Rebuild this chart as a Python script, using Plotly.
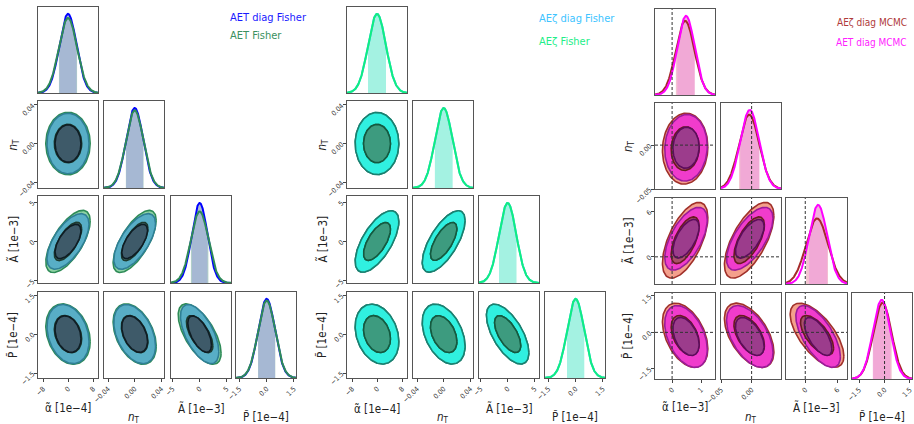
import numpy as np
import plotly.graph_objects as go

# ---------------- data ----------------
LABELS_FISHER = ["α̃ [1e−4]", "<i>n</i><sub>T</sub>", "Ã [1e−3]", "P̃ [1e−4]"]
LABELS_MCMC = ["α̃ [1e−3]", "<i>n</i><sub>T</sub>", "Ã [1e−3]", "P̃ [1e−4]"]

RANGES_FISHER = [[-9.6, 9.6], [-0.046, 0.044], [-5.3, 5.8], [-1.69, 1.62]]
RANGES_MCMC = [[-0.59, 1.48], [-0.05, 0.048], [-3.6, 7.8], [-1.92, 1.62]]

TICKS_FISHER = [[-8, 0, 8], [-0.04, 0.0, 0.04], [-5, 0, 5], [-1.5, 0.0, 1.5]]
TICKTEXT_FISHER = [["−8", "0", "8"], ["−0.04", "0.00", "0.04"], ["−5", "0", "5"], ["−1.5", "0.0", "1.5"]]
TICKS_MCMC = [[0, 1], [-0.05, 0.0], [0, 6], [-1.5, 0.0, 1.5]]
TICKTEXT_MCMC = [["0", "1"], ["−0.05", "0.00"], ["0", "6"], ["−1.5", "0.0", "1.5"]]

TRUE_VALUES = [0.0, 0.0, 0.0, 0.0]

# correlation order: (nT,α), (Ã,α), (Ã,nT), (P̃,α), (P̃,nT), (P̃,Ã)
AET_DIAG_MEAN = [0.0, 0.0, 0.0, 0.0]
AET_DIAG_SIGMA = [2.75, 0.0128, 1.45, 0.465]
AET_DIAG_CORR = [0.0, 0.62, 0.65, -0.25, -0.4, -0.6]

AET_FULL_MEAN = [0.0, 0.0, 0.0, 0.0]
AET_FULL_SIGMA = [2.9, 0.0132, 1.62, 0.475]
AET_FULL_CORR = [0.0, 0.66, 0.68, -0.25, -0.4, -0.63]

AEZ_DIAG_MEAN = [0.0, 0.0, 0.0, 0.0]
AEZ_DIAG_SIGMA = [2.85, 0.0131, 1.6, 0.47]
AEZ_DIAG_CORR = [0.0, 0.65, 0.68, -0.25, -0.4, -0.62]

AEZ_FULL_MEAN = [0.0, 0.0, 0.0, 0.0]
AEZ_FULL_SIGMA = [2.85, 0.0131, 1.6, 0.47]
AEZ_FULL_CORR = [0.0, 0.65, 0.68, -0.25, -0.4, -0.62]

AEZ_MCMC_MEAN = [0.45, -0.004, 2.2, -0.12]
AEZ_MCMC_SIGMA = [0.32, 0.0165, 2.05, 0.54]
AEZ_MCMC_CORR = [0.05, 0.6, 0.65, -0.42, -0.52, -0.65]

AET_MCMC_MEAN = [0.48, -0.003, 2.4, -0.17]
AET_MCMC_SIGMA = [0.3, 0.0155, 1.7, 0.52]
AET_MCMC_CORR = [0.05, 0.6, 0.65, -0.42, -0.52, -0.65]

# ---------------- layout constants ----------------
FIG_W, FIG_H = 914, 424
FONT = "DejaVu Sans Condensed, Liberation Sans Narrow, DejaVu Sans"

GROUPS = [
    dict(cols=[(38, 98), (104, 164), (171, 231), (236, 296)],
         rows=[(7, 93), (101, 188), (196, 283), (292, 378)],
         ranges=RANGES_FISHER, ticks=TICKS_FISHER, ticktext=TICKTEXT_FISHER,
         labels=LABELS_FISHER, ytitle_x=13, xtitle_y=[408, 417, 408, 417],
         legend_x=228, legend_anchor="left", legend_size=11, legend_y=[17, 36], dashed=False,
         series=[
             dict(name="AET Fisher", mean=AET_FULL_MEAN, sigma=AET_FULL_SIGMA, corr=AET_FULL_CORR,
                  line="#2e8b57", text="#3a9060", o_fill="#8ed3a4", o_line="#2e8b57",
                  i_fill="#426a6c", i_line="#1d3b2f", band="rgba(150,195,175,0.7)"),
             dict(name="AET diag Fisher", mean=AET_DIAG_MEAN, sigma=AET_DIAG_SIGMA, corr=AET_DIAG_CORR,
                  line="#0000ff", text="#1a1aff", o_fill="#58aec6", o_line="#2f7f95",
                  i_fill="#3e5a69", i_line="#0f1d24", band="rgba(165,182,212,0.95)"),
         ],
         legend_order=[1, 0], line_order=[1, 0]),
    dict(cols=[(347, 407), (413, 473), (479, 539), (545, 605)],
         rows=[(7, 93), (101, 188), (196, 283), (292, 378)],
         ranges=RANGES_FISHER, ticks=TICKS_FISHER, ticktext=TICKTEXT_FISHER,
         labels=LABELS_FISHER, ytitle_x=322, xtitle_y=[409, 417, 408, 417],
         legend_x=537, legend_anchor="left", legend_size=11, legend_y=[19, 41], dashed=False,
         series=[
             dict(name="AEζ diag Fisher", mean=AEZ_DIAG_MEAN, sigma=AEZ_DIAG_SIGMA, corr=AEZ_DIAG_CORR,
                  line="#33bbff", text="#40c4ff", o_fill="#30f0e0", o_line="#1a8070",
                  i_fill="#3d9b7f", i_line="#145a40", band="rgba(164,242,226,1)"),
             dict(name="AEζ Fisher", mean=AEZ_FULL_MEAN, sigma=AEZ_FULL_SIGMA, corr=AEZ_FULL_CORR,
                  line="#11ee80", text="#22ee88", o_fill="#30f0e0", o_line="#1a8070",
                  i_fill="#3d9b7f", i_line="#145a40", band="rgba(164,242,226,1)"),
         ],
         legend_order=[0, 1], line_order=[0, 1]),
    dict(cols=[(655, 715), (721, 781), (786, 847), (852, 912)],
         rows=[(9, 95), (103, 189), (198, 284), (293, 379)],
         ranges=RANGES_MCMC, ticks=TICKS_MCMC, ticktext=TICKTEXT_MCMC,
         labels=LABELS_MCMC, ytitle_x=628, xtitle_y=[407, 417, 407, 417],
         legend_x=909, legend_anchor="right", legend_size=10, legend_y=[22, 42], dashed=True,
         series=[
             dict(name="AEζ diag MCMC", mean=AEZ_MCMC_MEAN, sigma=AEZ_MCMC_SIGMA, corr=AEZ_MCMC_CORR,
                  line="#a52a2a", text="#b03a3a", o_fill="#f4a08c", o_line="#a0302a",
                  i_fill="#a8506a", i_line="#6a1a20", band="rgba(240,170,190,0.7)"),
             dict(name="AET diag MCMC", mean=AET_MCMC_MEAN, sigma=AET_MCMC_SIGMA, corr=AET_MCMC_CORR,
                  line="#ff00ff", text="#ff22ff", o_fill="#f03ccc", o_line="#9a1c9a",
                  i_fill="#9c3c8c", i_line="#5c0c5c", band="rgba(240,165,215,0.85)"),
         ],
         legend_order=[0, 1], line_order=[0, 1]),
]

PAIR_INDEX = {(1, 0): 0, (2, 0): 1, (2, 1): 2, (3, 0): 3, (3, 1): 4, (3, 2): 5}
K68 = np.sqrt(-2 * np.log(1 - 0.68))
K95 = np.sqrt(-2 * np.log(1 - 0.95))
DASH = dict(color="#333333", width=1, dash="3px,2px")


def xdom(c):
    return [c[0] / FIG_W, c[1] / FIG_W]


def ydom(r):
    return [1 - r[1] / FIG_H, 1 - r[0] / FIG_H]


def px_x(p):
    return p / FIG_W


def px_y(p):
    return 1 - p / FIG_H


def ellipse(mx, my, sx, sy, rho, k, n=160):
    t = np.linspace(0, 2 * np.pi, n)
    cov = np.array([[sx * sx, rho * sx * sy], [rho * sx * sy, sy * sy]])
    L = np.linalg.cholesky(cov)
    p = L @ (k * np.vstack([np.cos(t), np.sin(t)]))
    return mx + p[0], my + p[1]


def gauss(x, m, s):
    return np.exp(-0.5 * ((x - m) / s) ** 2) / (s * np.sqrt(2 * np.pi))


fig = go.Figure()
layout = {}
shapes = []
annotations = []
counter = [0]


def axis_style(show_ticks, tickvals=None, ticktext=None):
    d = dict(showline=True, mirror=True, linecolor="#555555", linewidth=1,
             showgrid=False, zeroline=False, fixedrange=True, automargin=False)
    if show_ticks:
        d.update(ticks="outside", ticklen=3, tickwidth=1, tickcolor="#444444",
                 tickvals=tickvals, ticktext=ticktext, tickangle=-45,
                 tickfont=dict(family=FONT, size=7, color="#333333"), showticklabels=True)
    else:
        d.update(ticks="", showticklabels=False)
    return d


def new_axes(xd, yd, xr, yr, xt=None, yt=None):
    counter[0] += 1
    s = "" if counter[0] == 1 else str(counter[0])
    xa = axis_style(xt is not None, *(xt or (None, None)))
    ya = axis_style(yt is not None, *(yt or (None, None)))
    xa.update(domain=xd, range=xr, anchor="y" + s)
    ya.update(domain=yd, range=yr, anchor="x" + s)
    layout["xaxis" + s] = xa
    layout["yaxis" + s] = ya
    return "x" + s, "y" + s


for g in GROUPS:
    R = g["ranges"]
    for i in range(4):
        for j in range(i + 1):
            xt = (g["ticks"][j], g["ticktext"][j]) if i == 3 else None
            if i == j:
                # diagonal: 1D marginal
                xg = np.linspace(R[j][0], R[j][1], 300)
                peak = max(gauss(s["mean"][j], s["mean"][j], s["sigma"][j]) for s in g["series"])
                xa, ya = new_axes(xdom(g["cols"][j]), ydom(g["rows"][i]), R[j], [0, peak / 0.92], xt, None)
                for s in g["series"]:
                    m, sd = s["mean"][j], s["sigma"][j]
                    xb = np.linspace(m - sd, m + sd, 80)
                    fig.add_trace(go.Scatter(x=xb, y=gauss(xb, m, sd), mode="lines", line=dict(width=0),
                                             fill="tozeroy", fillcolor=s["band"], xaxis=xa, yaxis=ya,
                                             hoverinfo="skip", showlegend=False))
                for k in g["line_order"]:
                    s = g["series"][k]
                    fig.add_trace(go.Scatter(x=xg, y=gauss(xg, s["mean"][j], s["sigma"][j]), mode="lines",
                                             line=dict(color=s["line"], width=2), xaxis=xa, yaxis=ya,
                                             hoverinfo="skip", showlegend=False))
                if g["dashed"]:
                    shapes.append(dict(type="line", xref=xa, yref=ya + " domain", x0=TRUE_VALUES[j],
                                       x1=TRUE_VALUES[j], y0=0, y1=1, layer="above", line=DASH))
            else:
                yt = (g["ticks"][i], g["ticktext"][i]) if j == 0 else None
                xa, ya = new_axes(xdom(g["cols"][j]), ydom(g["rows"][i]), R[j], R[i], xt, yt)
                for level, kk in (("o", K95), ("i", K68)):
                    for s in g["series"]:
                        rho = s["corr"][PAIR_INDEX[(i, j)]]
                        ex, ey = ellipse(s["mean"][j], s["mean"][i], s["sigma"][j], s["sigma"][i], rho, kk)
                        fig.add_trace(go.Scatter(x=ex, y=ey, mode="lines", fill="toself",
                                                 fillcolor=s[level + "_fill"],
                                                 line=dict(color=s[level + "_line"], width=1.6),
                                                 xaxis=xa, yaxis=ya, hoverinfo="skip", showlegend=False))
                if g["dashed"]:
                    shapes.append(dict(type="line", xref=xa, yref=ya + " domain", x0=TRUE_VALUES[j],
                                       x1=TRUE_VALUES[j], y0=0, y1=1, layer="above", line=DASH))
                    shapes.append(dict(type="line", xref=xa + " domain", yref=ya, x0=0, x1=1,
                                       y0=TRUE_VALUES[i], y1=TRUE_VALUES[i], layer="above", line=DASH))
    # axis titles
    for i in range(1, 4):
        r = g["rows"][i]
        annotations.append(dict(text=g["labels"][i], x=px_x(g["ytitle_x"]), y=px_y((r[0] + r[1]) / 2),
                                xref="paper", yref="paper", showarrow=False, textangle=-90,
                                xanchor="center", yanchor="middle",
                                font=dict(family=FONT, size=11.5, color="#222222")))
    for j in range(4):
        c = g["cols"][j]
        annotations.append(dict(text=g["labels"][j], x=px_x((c[0] + c[1]) / 2), y=px_y(g["xtitle_y"][j]),
                                xref="paper", yref="paper", showarrow=False,
                                xanchor="center", yanchor="middle",
                                font=dict(family=FONT, size=11.5, color="#222222")))
    # legend texts
    for n, k in enumerate(g["legend_order"]):
        s = g["series"][k]
        annotations.append(dict(text=s["name"], x=px_x(g["legend_x"]), y=px_y(g["legend_y"][n]),
                                xref="paper", yref="paper", showarrow=False,
                                xanchor=g["legend_anchor"], yanchor="middle",
                                font=dict(family=FONT, size=g["legend_size"], color=s["text"])))

layout.update(width=FIG_W, height=FIG_H, margin=dict(l=0, r=0, t=0, b=0, autoexpand=False),
              paper_bgcolor="white", plot_bgcolor="white", showlegend=False,
              shapes=shapes, annotations=annotations)
fig.update_layout(**layout)
fig.write_html("out.html")
